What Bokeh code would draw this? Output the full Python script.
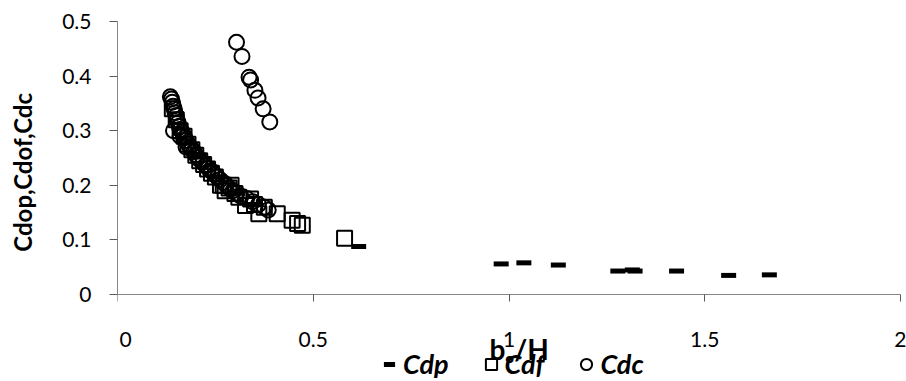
from bokeh.plotting import figure
from bokeh.models import Range1d, FixedTicker, Legend, LegendItem, Label
from bokeh.embed import file_html
from bokeh.resources import INLINE

# ---- data ----
cdp_x = [0.200, 0.250, 0.300, 0.350, 0.616, 0.980, 1.038, 1.126, 1.278, 1.315, 1.322, 1.428, 1.561, 1.665]
cdp_y = [0.252, 0.215, 0.186, 0.165, 0.088, 0.056, 0.058, 0.054, 0.043, 0.045, 0.043, 0.043, 0.035, 0.036]

cdf_x = [0.140, 0.150, 0.160, 0.170, 0.180, 0.190, 0.200, 0.210, 0.220, 0.230, 0.240, 0.250, 0.263,
         0.270, 0.275, 0.285, 0.290, 0.300, 0.310, 0.327, 0.340, 0.350, 0.361, 0.375, 0.408, 0.446,
         0.460, 0.472, 0.580]
cdf_y = [0.340, 0.320, 0.300, 0.290, 0.275, 0.265, 0.255, 0.245, 0.238, 0.230, 0.222, 0.215, 0.200,
         0.200, 0.190, 0.195, 0.200, 0.185, 0.178, 0.163, 0.175, 0.165, 0.148, 0.160, 0.148, 0.136,
         0.130, 0.127, 0.103]

cdc_x = [0.135, 0.138, 0.140, 0.142, 0.145, 0.147, 0.150, 0.152, 0.155, 0.158, 0.160, 0.165, 0.168,
         0.172, 0.175, 0.180, 0.185, 0.190, 0.195, 0.200, 0.205, 0.210, 0.218, 0.225, 0.232, 0.240,
         0.248, 0.255, 0.262, 0.270, 0.278, 0.285, 0.295, 0.305, 0.315, 0.330, 0.345, 0.360, 0.375,
         0.385, 0.143, 0.160, 0.175,
         0.304, 0.318, 0.336, 0.340, 0.351, 0.359, 0.372, 0.389]
cdc_y = [0.362, 0.358, 0.352, 0.345, 0.340, 0.333, 0.328, 0.320, 0.315, 0.308, 0.302, 0.298, 0.292,
         0.287, 0.282, 0.276, 0.270, 0.266, 0.262, 0.256, 0.251, 0.247, 0.242, 0.236, 0.231, 0.226,
         0.220, 0.215, 0.210, 0.205, 0.200, 0.195, 0.190, 0.186, 0.180, 0.176, 0.170, 0.165, 0.160,
         0.155, 0.300, 0.290, 0.270,
         0.462, 0.436, 0.398, 0.393, 0.374, 0.360, 0.340, 0.316]

x_ticks = [0, 0.5, 1, 1.5, 2]
y_ticks = [0, 0.1, 0.2, 0.3, 0.4, 0.5]
x_tick_labels = {0: "\u00a0\u00a0\u00a00", 0.5: "0.5", 1: "1", 1.5: "1.5", 2: "2"}
y_tick_labels = {0: "0", 0.1: "0.1", 0.2: "0.2", 0.3: "0.3", 0.4: "0.4", 0.5: "0.5"}
x_title = "b\u2092/H"
y_title = "\u00a0" * 10 + "Cdop,Cdof,Cdc"

FONT = "Lato"

# frame reaches the bottom and right of the page; x axis is pinned at y = 0
p = figure(frame_width=789, frame_height=360, output_backend="svg", toolbar_location=None,
           x_range=Range1d(0, 2.0153), y_range=Range1d(-0.1593, 0.5),
           min_border_left=117, min_border_right=0, min_border_top=21, min_border_bottom=0)
p.outline_line_color = None
p.xgrid.grid_line_color = None
p.ygrid.grid_line_color = None

for ax in (p.xaxis[0], p.yaxis[0]):
    ax.axis_line_color = "#868686"
    ax.major_tick_line_color = "#595959"
    ax.minor_tick_line_color = None
    ax.major_tick_in = 0
    ax.major_label_text_font = FONT
    ax.major_label_text_font_size = "21px"
    ax.major_label_text_color = "black"
    ax.axis_label_text_font = FONT
    ax.axis_label_text_color = "black"
    ax.axis_label_text_font_style = "bold"

p.xaxis.ticker = FixedTicker(ticks=x_ticks)
p.yaxis.ticker = FixedTicker(ticks=y_ticks)
p.xaxis.major_label_overrides = x_tick_labels
p.yaxis.major_label_overrides = y_tick_labels
p.xaxis.major_tick_out = 7
p.yaxis.major_tick_out = 8
p.xaxis.major_label_standoff = 24
p.yaxis.major_label_standoff = 18
p.xaxis.fixed_location = 0
p.xaxis.bounds = (0, 2)
p.yaxis.bounds = (0, 0.5)

p.yaxis.axis_label = y_title
p.yaxis.axis_label_text_font_size = "24px"
p.yaxis.axis_label_standoff = 22

r_cdp = p.scatter(cdp_x, cdp_y, marker="dash", size=15, line_width=5, line_color="black")
r_cdf = p.scatter(cdf_x, cdf_y, marker="square", size=15, line_width=2, line_color="black",
                  fill_color=None)
r_cdc = p.scatter(cdc_x, cdc_y, marker="circle", size=15, line_width=2, line_color="black",
                  fill_color=None)

p.add_layout(Label(x=0.950, y=-0.0989, text=x_title, text_font=FONT, text_font_size="28px",
                   text_font_style="bold", text_color="black", text_baseline="alphabetic",
                   text_align="left"))

legend = Legend(items=[LegendItem(label="Cdp", renderers=[r_cdp]),
                       LegendItem(label="Cdf", renderers=[r_cdf]),
                       LegendItem(label="Cdc", renderers=[r_cdc])],
                orientation="horizontal", location=(258, 1),
                label_text_font=FONT, label_text_font_size="27px",
                label_text_font_style="bold italic", label_text_color="black",
                border_line_color=None, background_fill_alpha=0,
                glyph_width=28, glyph_height=28, spacing=28, padding=0, margin=0,
                label_standoff=0, label_height=27)
p.add_layout(legend, "center")

open("out.html", "w").write(file_html(p, INLINE))
